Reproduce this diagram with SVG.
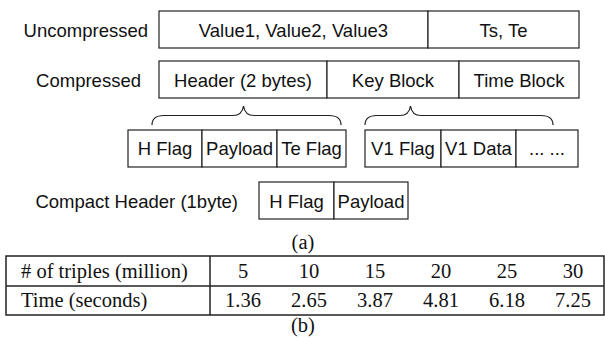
<svg xmlns="http://www.w3.org/2000/svg" width="605" height="338" viewBox="0 0 605 338">
<style>
.b{fill:#fff;stroke:#222;stroke-width:1.2}
.s{font-family:"Liberation Sans",Arial,sans-serif;font-size:18.5px;fill:#111}
.m{text-anchor:middle}
.e{text-anchor:end}
.t{font-family:"Liberation Serif","Times New Roman",serif;font-size:20.5px;fill:#111}
.ln{stroke:#222;stroke-width:1.5;fill:none}
.br{stroke:#222;stroke-width:1.2;fill:none}
</style>
<rect width="605" height="338" fill="#fff"/>
<g id="labels">
<text class="s e" x="148" y="37">Uncompressed</text>
<text class="s e" x="141" y="87">Compressed</text>
<text class="s e" x="238" y="208">Compact Header (1byte)</text>
</g>
<g id="uncompressed">
<rect class="b" x="159" y="11" width="269" height="37"/>
<rect class="b" x="428" y="11" width="151" height="37"/>
<text class="s m" x="293.5" y="37">Value1, Value2, Value3</text>
<text class="s m" x="503.5" y="37">Ts, Te</text>
</g>
<g id="compressed">
<rect class="b" x="159" y="61" width="168" height="37"/>
<rect class="b" x="327" y="61" width="132" height="37"/>
<rect class="b" x="459" y="61" width="120" height="37"/>
<text class="s m" x="243" y="87">Header (2 bytes)</text>
<text class="s m" x="393" y="87">Key Block</text>
<text class="s m" x="519" y="87">Time Block</text>
</g>
<g id="connectors">
<path class="br" d="M152,125 C152,119 156,115.5 164,115.5 L233,115.5 C239,115.5 242.5,113 243.5,106 C244.5,113 248,115.5 254,115.5 L329,115.5 C337,115.5 341,119 341,125"/>
<path class="br" d="M365,125 C365,119 369,115.5 377,115.5 L400,115.5 C406,115.5 409.5,113 410.5,106 C411.5,113 415,115.5 421,115.5 L541,115.5 C549,115.5 553,119 553,125"/>
</g>
<g id="header-detail">
<rect class="b" x="128" y="130" width="74" height="37"/>
<rect class="b" x="202" y="130" width="75" height="37"/>
<rect class="b" x="277" y="130" width="69" height="37"/>
<text class="s m" x="165" y="155">H Flag</text>
<text class="s m" x="239.5" y="155">Payload</text>
<text class="s m" x="311.5" y="155">Te Flag</text>
</g>
<g id="key-detail">
<rect class="b" x="365" y="130" width="76" height="37"/>
<rect class="b" x="441" y="130" width="75" height="37"/>
<rect class="b" x="516" y="130" width="62" height="37"/>
<text class="s m" x="403" y="155">V1 Flag</text>
<text class="s m" x="478.5" y="155">V1 Data</text>
<text class="s m" x="547" y="155">... ...</text>
</g>
<g id="compact">
<rect class="b" x="259" y="182" width="75" height="37"/>
<rect class="b" x="334" y="182" width="74" height="37"/>
<text class="s m" x="296.5" y="208">H Flag</text>
<text class="s m" x="371" y="208">Payload</text>
</g>
<text class="t m" x="303" y="249">(a)</text>
<g id="table">
<rect class="ln" x="6" y="256" width="598" height="59"/>
<line class="ln" x1="6" y1="286" x2="604" y2="286"/>
<line class="ln" x1="210" y1="256" x2="210" y2="315"/>
<text class="t" x="21" y="278" font-size="21.5">&#35; of triples (million)</text>
<text class="t" x="21" y="307" font-size="21.5">Time (seconds)</text>
<text class="t m" x="243" y="278">5</text>
<text class="t m" x="309" y="278">10</text>
<text class="t m" x="375" y="278">15</text>
<text class="t m" x="441" y="278">20</text>
<text class="t m" x="507" y="278">25</text>
<text class="t m" x="573" y="278">30</text>
<text class="t m" x="243" y="307">1.36</text>
<text class="t m" x="309" y="307">2.65</text>
<text class="t m" x="375" y="307">3.87</text>
<text class="t m" x="441" y="307">4.81</text>
<text class="t m" x="507" y="307">6.18</text>
<text class="t m" x="573" y="307">7.25</text>
</g>
<text class="t m" x="303" y="332">(b)</text>
</svg>
